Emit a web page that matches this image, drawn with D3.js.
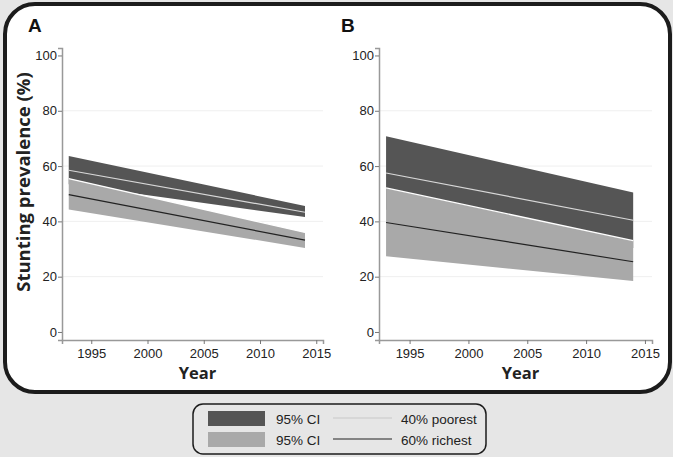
<!DOCTYPE html>
<html><head><meta charset="utf-8">
<script src="https://cdn.jsdelivr.net/npm/d3@7"></script>
<style>body{margin:0;background:#e6e6e6;}svg{display:block;}</style>
</head><body>
<script>
// ---- data ----
const years = [1993, 2014];
const xTicks = [1995, 2000, 2005, 2010, 2015];
const yTicks = [0, 20, 40, 60, 80, 100];
const panelLabels = ["A", "B"];
// Panel A
const poorUpperA = [63.6, 45.6];
const poorLowerA = [53.4, 41.6];
const poorLineA  = [58.5, 43.3];
const richUpperA = [55.5, 36.0];
const richLowerA = [44.3, 30.4];
const richLineA  = [49.7, 33.2];
// Panel B
const poorUpperB = [70.8, 50.4];
const poorLowerB = [44.2, 30.4];
const poorLineB  = [57.5, 40.4];
const richUpperB = [52.1, 33.0];
const richLowerB = [27.4, 18.4];
const richLineB  = [39.6, 25.4];
const legendBands = ["95% CI", "95% CI"];
const legendLines = ["40% poorest", "60% richest"];

const W = 673, H = 457;
const svg = d3.select("body").append("svg").attr("width", W).attr("height", H);
svg.append("rect").attr("width", W).attr("height", H).attr("fill", "#e6e6e6");
svg.append("rect").attr("x", 5).attr("y", 4).attr("width", 665).attr("height", 388)
  .attr("rx", 30).attr("fill", "#fff").attr("stroke", "#1c1c1c").attr("stroke-width", 4);

const DARK = "#555555", LIGHT = "#a9a9a9";
const panels = [
  {label: panelLabels[0], x0: 62, x1: 323, lx: 28, pu: poorUpperA, pl: poorLowerA, pm: poorLineA, ru: richUpperA, rl: richLowerA, rm: richLineA},
  {label: panelLabels[1], x0: 379, x1: 652, lx: 341, pu: poorUpperB, pl: poorLowerB, pm: poorLineB, ru: richUpperB, rl: richLowerB, rm: richLineB}
];
const y = d3.scaleLinear().domain([-2.9, 102.7]).range([340, 48]);

panels.forEach(p => {
  const x = d3.scaleLinear().domain([1992.4, 2015.6]).range([p.x0, p.x1]);
  const g = svg.append("g");
  // gridlines
  g.selectAll("line.grid").data(yTicks.filter(t => t > 0 && t < 100)).enter().append("line")
    .attr("x1", p.x0).attr("x2", p.x1).attr("y1", d => y(d)).attr("y2", d => y(d))
    .attr("stroke", "#efefef").attr("stroke-width", 1);
  const area = (up, lo) => d3.area().x((d, i) => x(years[i])).y0((d, i) => y(lo[i])).y1((d, i) => y(up[i]))(years);
  const line = arr => d3.line().x((d, i) => x(years[i])).y((d, i) => y(arr[i]))(years);
  g.append("path").attr("d", area(p.pu, p.pl)).attr("fill", DARK);
  g.append("path").attr("d", line(p.pm)).attr("fill", "none").attr("stroke", "#d8d8d8").attr("stroke-width", 1.2);
  g.append("path").attr("d", area(p.ru, p.rl)).attr("fill", LIGHT);
  g.append("path").attr("d", line(p.ru)).attr("fill", "none").attr("stroke", "#fff").attr("stroke-width", 1.3);
  g.append("path").attr("d", line(p.rm)).attr("fill", "none").attr("stroke", "#222").attr("stroke-width", 1.2);

  // axes
  const ya = g.append("g").attr("transform", `translate(${p.x0},0)`)
    .call(d3.axisLeft(y).tickValues(yTicks).tickSize(4).tickPadding(1));
  const xa = g.append("g").attr("transform", `translate(0,340)`)
    .call(d3.axisBottom(x).tickValues(xTicks).tickFormat(d3.format("d")).tickSize(4).tickPadding(5));
  [ya, xa].forEach(a => {
    a.select(".domain").attr("stroke", "#999").attr("stroke-width", 1.5);
    a.selectAll(".tick line").attr("stroke", "#777");
    a.selectAll("text").attr("fill", "#222").style("font-family", "Arial, 'Liberation Sans', sans-serif").style("font-size", "13px");
  });
  g.append("text").attr("x", (p.x0 + p.x1) / 2 + 5).attr("y", 379).attr("text-anchor", "middle")
    .style("font-family", "'Open Sans', sans-serif").style("font-weight", "bold").style("font-size", "16.5px")
    .attr("fill", "#222").text("Year");
  g.append("text").attr("x", p.lx).attr("y", 32)
    .style("font-family", "Arial, 'Liberation Sans', sans-serif").style("font-weight", "bold").style("font-size", "19px")
    .attr("fill", "#111").text(p.label);
});

svg.append("text").attr("transform", "translate(30,182) rotate(-90)").attr("text-anchor", "middle")
  .style("font-family", "'Open Sans', sans-serif").style("font-weight", "bold").style("font-size", "18.5px")
  .attr("fill", "#222").text("Stunting prevalence (%)");

// legend
const lg = svg.append("g");
lg.append("rect").attr("x", 193).attr("y", 404).attr("width", 293).attr("height", 50).attr("rx", 10)
  .attr("fill", "none").attr("stroke", "#1c1c1c").attr("stroke-width", 1.5);
const lgFill = [DARK, LIGHT], lgStroke = ["#c8c8c8", "#222"];
legendBands.forEach((t, i) => {
  const yy = 411 + i * 21;
  lg.append("rect").attr("x", 208).attr("y", yy).attr("width", 57).attr("height", 15).attr("fill", lgFill[i]);
  lg.append("text").attr("x", 276).attr("y", yy + 12.5).text(t)
    .style("font-family", "Arial, 'Liberation Sans', sans-serif").style("font-size", "13.5px").attr("fill", "#222");
  lg.append("line").attr("x1", 333).attr("x2", 392).attr("y1", yy + 7).attr("y2", yy + 7)
    .attr("stroke", lgStroke[i]).attr("stroke-width", 1.2);
  lg.append("text").attr("x", 401).attr("y", yy + 12.5).text(legendLines[i])
    .style("font-family", "Arial, 'Liberation Sans', sans-serif").style("font-size", "13.5px").attr("fill", "#222");
});
</script>
</body></html>
